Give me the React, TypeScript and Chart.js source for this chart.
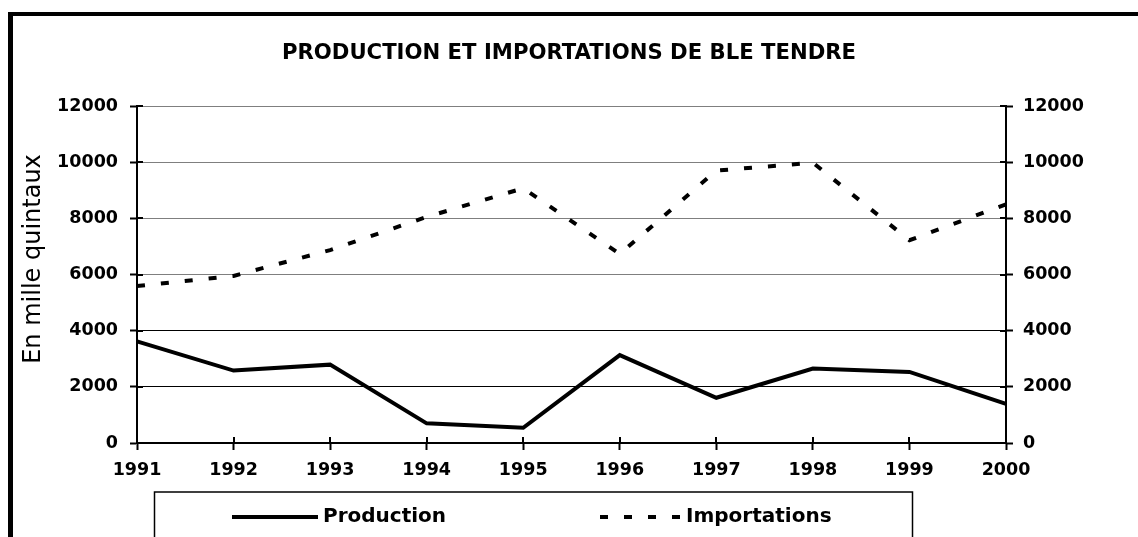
import React, { useEffect, useRef } from "react";
import { Chart, registerables } from "chart.js";

Chart.register(...registerables);

const years = ["1991", "1992", "1993", "1994", "1995", "1996", "1997", "1998", "1999", "2000"];
const production = [3620, 2580, 2790, 700, 540, 3130, 1610, 2650, 2530, 1390];
const importations = [5590, 5950, 6870, 8050, 9070, 6730, 9700, 9980, 7220, 8500];
const yTicks = [0, 2000, 4000, 6000, 8000, 10000, 12000];
const titleText = "PRODUCTION ET IMPORTATIONS DE BLE TENDRE";
const yTitle = "En mille quintaux";
const seriesLabels = ["Production", "Importations"];

const FONT = "'DejaVu Sans', 'Liberation Sans', sans-serif";

const framePlugin = {
  id: "frame",
  beforeDraw(chart: any) {
    const ctx = chart.ctx;
    ctx.save();
    ctx.fillStyle = "#fff";
    ctx.fillRect(0, 0, chart.width, chart.height);
    ctx.fillStyle = "#000";
    ctx.fillRect(8, 12, chart.width, 4);
    ctx.fillRect(8, 12, 5, chart.height);
    ctx.restore();
  },
  afterDraw(chart: any) {
    const ctx = chart.ctx;
    const { x, y, y2 } = chart.scales;
    ctx.save();
    ctx.strokeStyle = "#000";
    ctx.lineWidth = 2;
    ctx.beginPath();
    x.ticks.forEach((_: any, i: number) => {
      const px = Math.round(x.getPixelForTick(i));
      ctx.moveTo(px, x.top);
      ctx.lineTo(px, x.top - 6);
    });
    y.ticks.forEach((_: any, i: number) => {
      const py = Math.round(y.getPixelForTick(i));
      ctx.moveTo(y.right, py);
      ctx.lineTo(y.right + 6, py);
    });
    y2.ticks.forEach((_: any, i: number) => {
      const py = Math.round(y2.getPixelForTick(i));
      ctx.moveTo(y2.left, py);
      ctx.lineTo(y2.left - 6, py);
    });
    ctx.stroke();

    // y axis title
    ctx.save();
    ctx.translate(34, 259);
    ctx.rotate(-Math.PI / 2);
    ctx.font = `24px ${FONT}`;
    ctx.fillStyle = "#000";
    ctx.textAlign = "center";
    ctx.textBaseline = "middle";
    ctx.fillText(yTitle, 0, 0);
    ctx.restore();

    // legend box
    ctx.lineWidth = 1.5;
    ctx.strokeStyle = "#000";
    ctx.strokeRect(154.5, 492, 758, 100);
    const ly = 517;
    const ds = chart.data.datasets;
    ctx.font = `bold 20px ${FONT}`;
    ctx.fillStyle = "#000";
    ctx.textBaseline = "middle";
    ctx.textAlign = "left";
    ctx.lineWidth = ds[0].borderWidth;
    ctx.setLineDash([]);
    ctx.beginPath();
    ctx.moveTo(232, ly);
    ctx.lineTo(318, ly);
    ctx.stroke();
    ctx.fillText(ds[0].label, 323, ly);
    ctx.lineWidth = ds[1].borderWidth;
    ctx.setLineDash(ds[1].borderDash);
    ctx.beginPath();
    ctx.moveTo(600, ly);
    ctx.lineTo(680, ly);
    ctx.stroke();
    ctx.setLineDash([]);
    ctx.fillText(ds[1].label, 686, ly);
    ctx.restore();
  },
};

export default function App() {
  const ref = useRef<HTMLCanvasElement | null>(null);
  useEffect(() => {
    if (!ref.current) return;
    const tickFont = { family: FONT, weight: "bold" as const, size: 17.5 };
    const fmt = (v: any) => String(v);
    const chart = new Chart(ref.current, {
      type: "line",
      data: {
        labels: years,
        datasets: [
          {
            label: seriesLabels[0],
            data: production,
            borderColor: "#000",
            borderWidth: 4,
            pointRadius: 0,
            tension: 0,
            fill: false,
          },
          {
            label: seriesLabels[1],
            data: importations,
            borderColor: "#000",
            borderWidth: 4,
            borderDash: [8, 16],
            pointRadius: 0,
            tension: 0,
            fill: false,
          },
        ],
      },
      options: {
        responsive: false,
        animation: false,
        devicePixelRatio: 1,
        layout: { padding: 0 },
        plugins: {
          legend: { display: false },
          tooltip: { enabled: false },
          title: {
            display: true,
            text: titleText,
            color: "#000",
            font: { family: FONT, weight: "bold", size: 21.2 },
            padding: { top: 41, bottom: 106 - 41 - 21.2 * 1.2 },
          },
        },
        scales: {
          x: {
            type: "category",
            offset: false,
            grid: {
              drawOnChartArea: false,
              drawTicks: true,
              tickLength: 7,
              tickColor: "#000",
              tickWidth: 2,
            },
            border: { display: true, color: "#000", width: 2 },
            ticks: { color: "#000", font: tickFont, padding: 10, maxRotation: 0, autoSkip: false },
            afterFit: (s: any) => {
              s.height = 94;
            },
          },
          y: {
            position: "left",
            min: 0,
            max: 12000,
            afterBuildTicks: (s: any) => {
              s.ticks = yTicks.map((v) => ({ value: v }));
            },
            grid: {
              color: (c: any) => (c.tick && c.tick.value <= 4000 ? "#000" : "#7f7f7f"),
              lineWidth: 1,
              drawTicks: true,
              tickLength: 7,
              tickColor: "#000",
              tickWidth: 2,
            },
            border: { display: true, color: "#000", width: 2 },
            ticks: { color: "#000", font: tickFont, padding: 12, callback: fmt },
            afterFit: (s: any) => {
              s.width = 137;
            },
          },
          y2: {
            position: "right",
            min: 0,
            max: 12000,
            afterBuildTicks: (s: any) => {
              s.ticks = yTicks.map((v) => ({ value: v }));
            },
            grid: {
              drawOnChartArea: false,
              drawTicks: true,
              tickLength: 7,
              tickColor: "#000",
              tickWidth: 2,
            },
            border: { display: true, color: "#000", width: 2 },
            ticks: { color: "#000", font: tickFont, padding: 10, callback: fmt },
            afterFit: (s: any) => {
              s.width = 132;
            },
          },
        },
      },
      plugins: [framePlugin],
    });
    return () => chart.destroy();
  }, []);
  return (
    <div style={{ position: "fixed", left: 0, top: 0, width: 1138, height: 537, background: "#fff" }}>
      <canvas ref={ref} width={1138} height={537} style={{ display: "block" }} />
    </div>
  );
}
